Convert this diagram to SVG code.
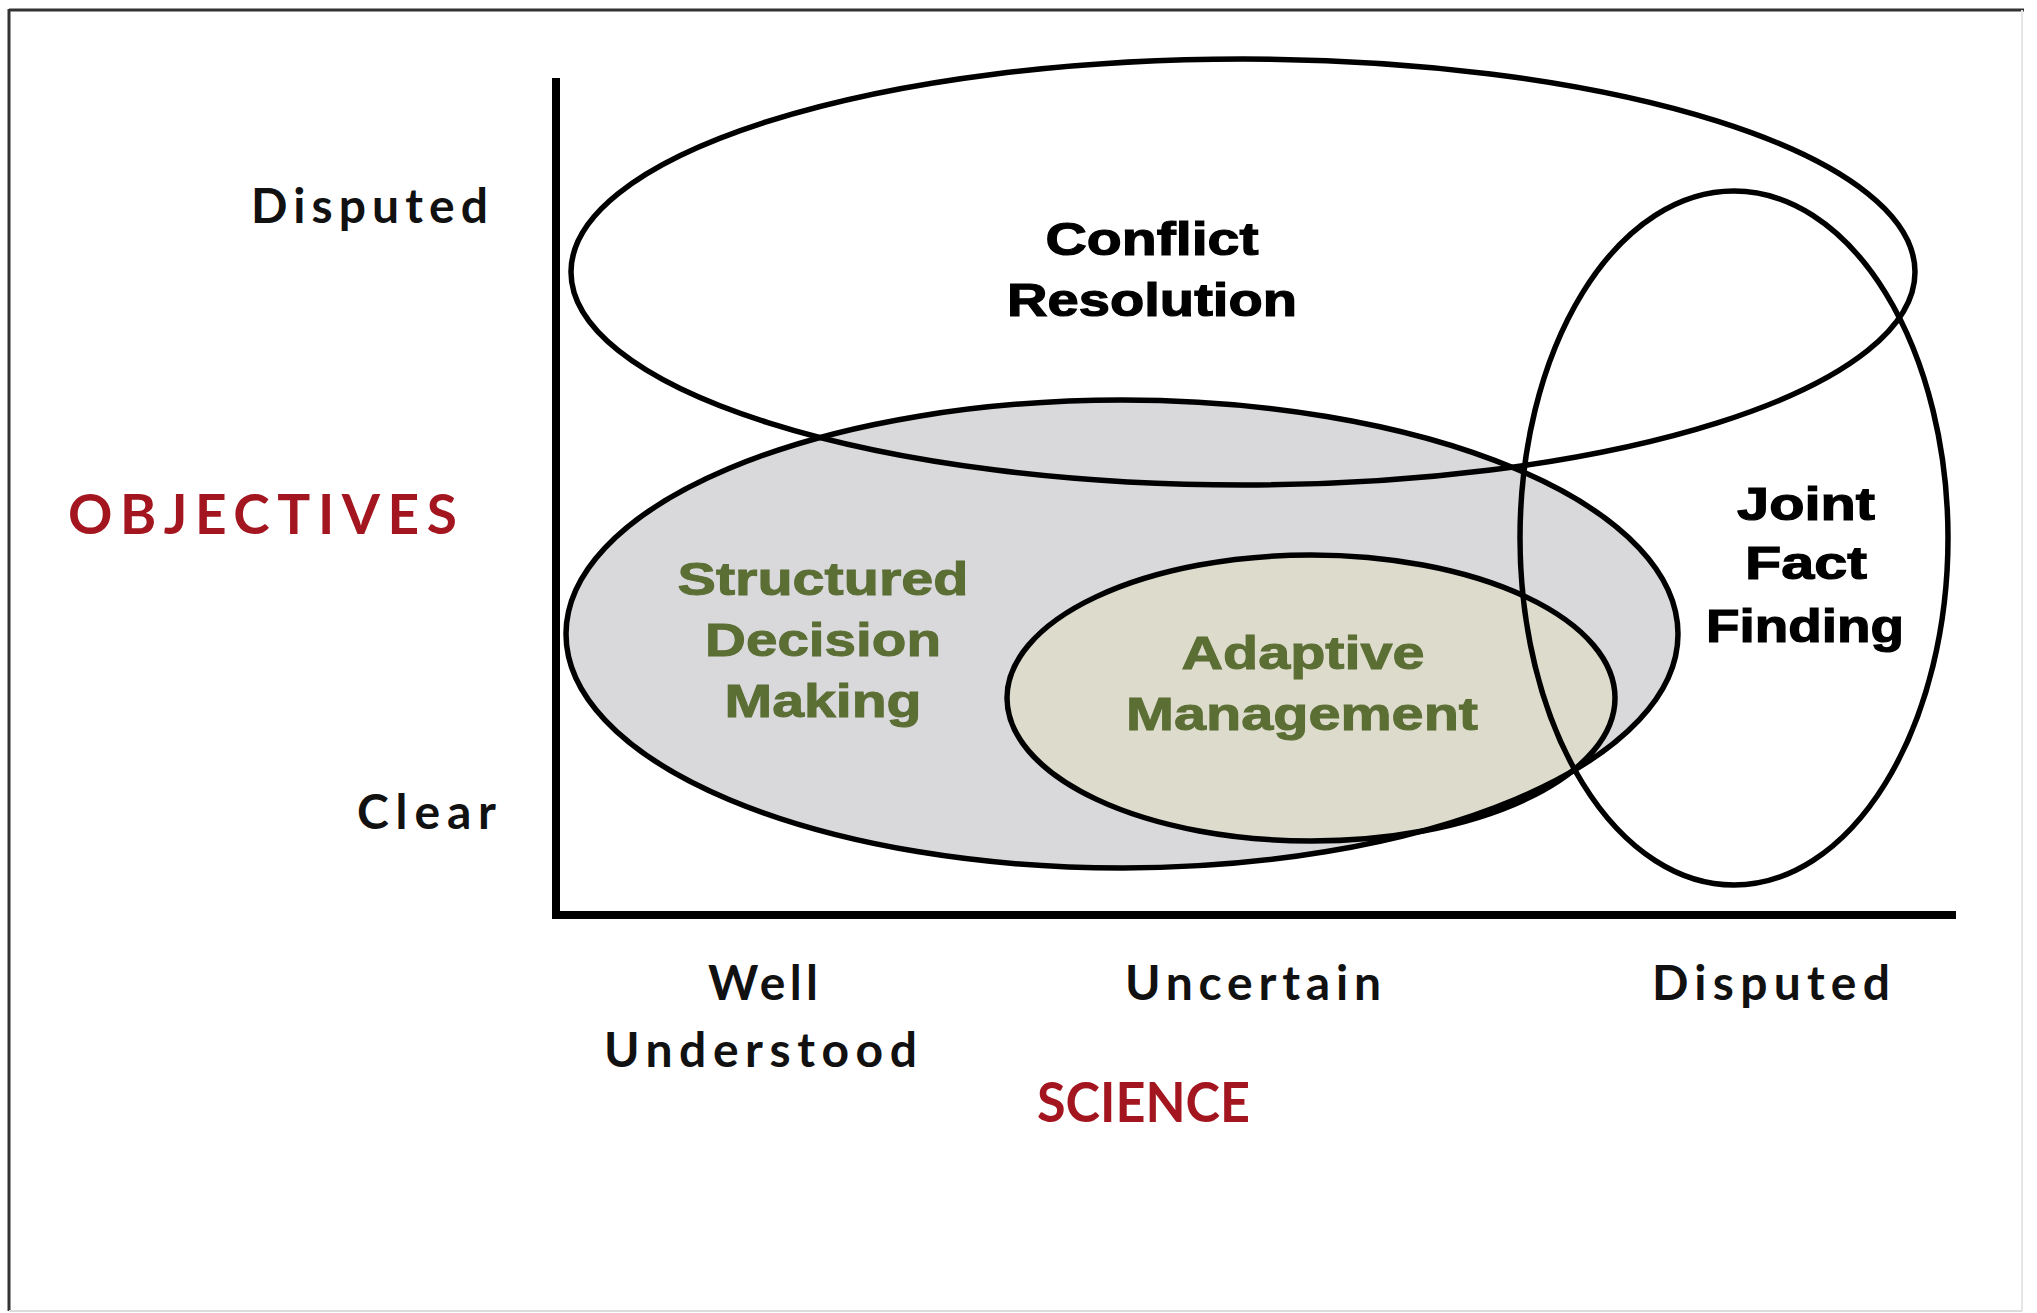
<svg xmlns="http://www.w3.org/2000/svg" width="2037" height="1313" viewBox="0 0 2037 1313">
<style>
.ax{font-family:Lato,"Open Sans","Liberation Sans",sans-serif;font-weight:bold;fill:#111}
.red{font-family:Lato,"Open Sans","Liberation Sans",sans-serif;font-weight:bold;fill:#a3161f}
.blk{font-family:"Liberation Sans",Arial,sans-serif;font-weight:bold;fill:#000;stroke:#000;stroke-width:1.2;text-anchor:middle}
.grn{font-family:"Liberation Sans",Arial,sans-serif;font-weight:bold;fill:#5b6e34;stroke:#5b6e34;stroke-width:1;text-anchor:middle}
.ring{fill:none;stroke:#000;stroke-width:5.5}
</style>
<rect x="0" y="0" width="2037" height="1313" fill="#fff"/>
<g id="frame">
<line x1="9" y1="10" x2="2024" y2="10" stroke="#333" stroke-width="3"/>
<line x1="9" y1="9" x2="9" y2="1311" stroke="#333" stroke-width="3"/>
<line x1="2022" y1="10" x2="2022" y2="1311" stroke="#e6e6e6" stroke-width="2"/>
<line x1="9" y1="1311" x2="2022" y2="1311" stroke="#dcdcdc" stroke-width="2"/>
</g>
<g id="fills">
<ellipse cx="1122" cy="634" rx="556" ry="234" fill="#d9d9dc"/>
<ellipse cx="1311" cy="698" rx="304" ry="143" fill="#dddbcb"/>
</g>
<g id="connectors">
<line x1="556" y1="78" x2="556" y2="919" stroke="#000" stroke-width="8"/>
<line x1="552" y1="915" x2="1956" y2="915" stroke="#000" stroke-width="8"/>
</g>
<g id="structured-decision-making">
<ellipse class="ring" cx="1122" cy="634" rx="556" ry="234"/>
<text class="grn" font-size="46" x="823" y="595" textLength="291" lengthAdjust="spacingAndGlyphs">Structured</text>
<text class="grn" font-size="46" x="823" y="656" textLength="236" lengthAdjust="spacingAndGlyphs">Decision</text>
<text class="grn" font-size="46" x="823" y="717" textLength="197" lengthAdjust="spacingAndGlyphs">Making</text>
</g>
<g id="adaptive-management">
<ellipse class="ring" cx="1311" cy="698" rx="304" ry="143" stroke-width="3"/>
<text class="grn" font-size="46" x="1303" y="669" textLength="243" lengthAdjust="spacingAndGlyphs">Adaptive</text>
<text class="grn" font-size="46" x="1302" y="730" textLength="352" lengthAdjust="spacingAndGlyphs">Management</text>
</g>
<g id="conflict-resolution">
<ellipse class="ring" cx="1243" cy="272" rx="672" ry="213"/>
<text class="blk" font-size="46" x="1152" y="255" textLength="213" lengthAdjust="spacingAndGlyphs">Conflict</text>
<text class="blk" font-size="46" x="1152" y="316" textLength="290" lengthAdjust="spacingAndGlyphs">Resolution</text>
</g>
<g id="joint-fact-finding">
<ellipse class="ring" cx="1734" cy="538" rx="214" ry="347" stroke-width="4.5"/>
<text class="blk" font-size="46" x="1806" y="520" textLength="138" lengthAdjust="spacingAndGlyphs">Joint</text>
<text class="blk" font-size="46" x="1806" y="579" textLength="122" lengthAdjust="spacingAndGlyphs">Fact</text>
<text class="blk" font-size="46" x="1805" y="642" textLength="198" lengthAdjust="spacingAndGlyphs">Finding</text>
</g>
<g id="objectives-axis">
<text class="ax" font-size="48" x="251" y="223" textLength="237" lengthAdjust="spacing">Disputed</text>
<text class="red" font-size="55" x="68" y="534" textLength="389" lengthAdjust="spacing">OBJECTIVES</text>
<text class="ax" font-size="48" x="357" y="829" textLength="139" lengthAdjust="spacing">Clear</text>
</g>
<g id="science-axis">
<text class="ax" font-size="48" x="708" y="1000" textLength="110" lengthAdjust="spacing">Well</text>
<text class="ax" font-size="48" x="604" y="1067" textLength="313" lengthAdjust="spacing">Understood</text>
<text class="ax" font-size="48" x="1125" y="1000" textLength="256" lengthAdjust="spacing">Uncertain</text>
<text class="ax" font-size="48" x="1652" y="1000" textLength="238" lengthAdjust="spacing">Disputed</text>
<text class="red" font-size="56" x="1037" y="1122" textLength="213" lengthAdjust="spacingAndGlyphs">SCIENCE</text>
</g>
</svg>
